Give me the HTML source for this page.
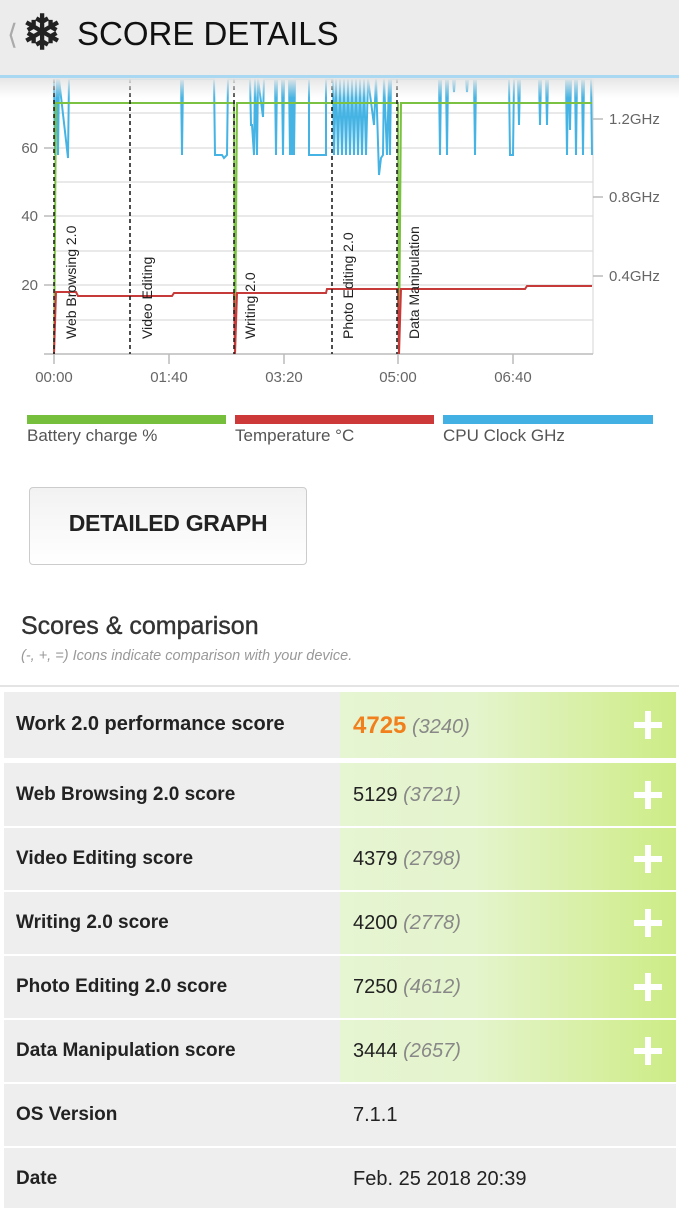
<!DOCTYPE html>
<html><head><meta charset="utf-8"><style>
*{margin:0;padding:0;box-sizing:border-box}
body{width:679px;height:1200px;overflow:hidden;background:#fff;font-family:"Liberation Sans",sans-serif;position:relative;color:#222}
.hdr{position:absolute;left:0;top:0;width:679px;height:75px;background:#ececec;z-index:5}
.hdrline{position:absolute;left:0;top:75px;width:679px;height:3px;background:#a9d9f2;z-index:5}
.shadow{position:absolute;left:0;top:78px;width:679px;height:20px;background:linear-gradient(#e6e6e6,rgba(255,255,255,0));z-index:4}
.t{position:absolute;white-space:nowrap}
.row{position:absolute;left:4px;width:672px;background:#eeeeee}
.row .l{position:absolute;left:12px;font-weight:bold;font-size:19px;color:#222;letter-spacing:0}
.row .g{position:absolute;left:336px;top:0;bottom:0;right:0;background:linear-gradient(90deg,#e6f5d2 0%,#e4f4cc 40%,#cdec86 100%)}
.row .v{position:absolute;left:349px;font-size:20px;color:#222}
.row .v i{color:#888}
.plus{position:absolute;right:14px;width:28px;height:28px}
.plus:before{content:"";position:absolute;left:11px;top:0;width:6px;height:28px;background:#fff}
.plus:after{content:"";position:absolute;left:0;top:11px;width:28px;height:6px;background:#fff}
</style></head><body>
<div class="hdr"></div><div class="hdrline"></div><div class="shadow"></div>
<div class="t" style="left:7px;top:18px;font-size:28px;color:#aaa;z-index:6">&#10216;</div>
<div class="t" style="left:22px;top:8px;font-size:48px;font-weight:bold;color:#222;z-index:6;line-height:52px">&#10052;</div>
<div class="t" style="left:77px;top:15px;font-size:33px;color:#111;z-index:6">SCORE DETAILS</div>

<svg style="position:absolute;left:0;top:0" width="679" height="400">
<g stroke="#dcdcdc" stroke-width="1.2">
<line x1="54" y1="79" x2="593" y2="79"/><line x1="54" y1="113" x2="593" y2="113"/><line x1="54" y1="148" x2="593" y2="148"/><line x1="54" y1="182" x2="593" y2="182"/><line x1="54" y1="216" x2="593" y2="216"/><line x1="54" y1="251" x2="593" y2="251"/><line x1="54" y1="285" x2="593" y2="285"/><line x1="54" y1="320" x2="593" y2="320"/>
<line x1="593" y1="79" x2="593" y2="354"/>
</g>
<g stroke="#bbb" stroke-width="1.5">
<line x1="44" y1="354" x2="593" y2="354"/>
<line x1="44" y1="148" x2="54" y2="148"/><line x1="44" y1="216" x2="54" y2="216"/><line x1="44" y1="285" x2="54" y2="285"/>
<line x1="54" y1="354" x2="54" y2="364"/><line x1="169" y1="354" x2="169" y2="364"/><line x1="284" y1="354" x2="284" y2="364"/><line x1="398" y1="354" x2="398" y2="364"/><line x1="513" y1="354" x2="513" y2="364"/>
<line x1="593" y1="119" x2="603" y2="119"/><line x1="593" y1="197" x2="603" y2="197"/><line x1="593" y1="276" x2="603" y2="276"/>
</g>
<g font-family="Liberation Sans" font-size="15" fill="#666">
<text x="38" y="153" text-anchor="end">60</text><text x="38" y="221" text-anchor="end">40</text><text x="38" y="290" text-anchor="end">20</text>
<text x="54" y="382" text-anchor="middle">00:00</text><text x="169" y="382" text-anchor="middle">01:40</text><text x="284" y="382" text-anchor="middle">03:20</text><text x="398" y="382" text-anchor="middle">05:00</text><text x="513" y="382" text-anchor="middle">06:40</text>
<text x="609" y="124">1.2GHz</text><text x="609" y="202">0.8GHz</text><text x="609" y="281">0.4GHz</text>
</g>
<path fill="none" stroke="#45b3e3" stroke-width="2" d="M54 79 L55 155 L57 79 L58 155 L59 79 L68 158 L69 79 L181 79 L182 155 L183 79 L214 79 L215 155 L222 155 L224 158 L227 155 L228 79 L250 79 L251 125 L252 125 L254 155 L255 79 L257 155 L258 79 L263 117 L264 79 L275 79 L276 155 L277 79 L282 79 L283 155 L284 79 L289 79 L290 155 L291 79 L292 155 L293 79 L294 155 L295 79 L309 79 L309 155 L326 155 L326 79 L333 79 L334 155 L336 79 L338 155 L340 79 L342 155 L344 79 L346 155 L348 79 L350 155 L352 79 L354 155 L356 79 L358 155 L360 79 L362 155 L364 79 L366 155 L368 79 L374 125 L376 79 L379 175 L381 158 L383 155 L384 79 L387 155 L389 79 L390 155 L391 79 L439 79 L440 155 L441 79 L446 79 L447 155 L448 79 L453 79 L454 92 L455 79 L466 79 L467 92 L468 79 L474 79 L475 155 L476 79 L509 79 L510 155 L513 155 L514 79 L518 79 L519 125 L520 79 L539 79 L540 125 L541 79 L546 79 L547 125 L548 79 L566 79 L567 155 L568 79 L569 79 L570 130 L571 79 L575 79 L576 155 L577 79 L582 79 L583 155 L584 79 L591 79 L592 155"/>
<path fill="none" stroke="#7cc242" stroke-width="2" d="M54 354 L56 103 L234 103 L235 354 L237 103 L398 103 L399 354 L401 103 L592 103"/>
<path fill="none" stroke="#c73a3a" stroke-width="2" d="M54 354 L56 292 L76 292 L78 296 L172 296 L174 293 L234 293 L235 354 L237 293 L326 293 L327 289 L398 289 L399 354 L401 289 L525 289 L527 286 L592 286"/>
<g stroke="#222" stroke-width="1.6" stroke-dasharray="4,3">
<line x1="54" y1="79" x2="54" y2="354"/><line x1="130" y1="79" x2="130" y2="354"/><line x1="234" y1="79" x2="234" y2="354"/><line x1="332" y1="79" x2="332" y2="354"/><line x1="397" y1="79" x2="397" y2="354"/>
</g>
<g font-family="Liberation Sans" font-size="14" fill="#222">
<text transform="translate(76,339) rotate(-90)">Web Browsing 2.0</text>
<text transform="translate(152,339) rotate(-90)">Video Editing</text>
<text transform="translate(255,339) rotate(-90)">Writing 2.0</text>
<text transform="translate(353,339) rotate(-90)">Photo Editing 2.0</text>
<text transform="translate(419,339) rotate(-90)">Data Manipulation</text>
</g>
</svg>

<div style="position:absolute;left:27px;top:415px;width:199px;height:9px;background:#75bf3c"></div>
<div style="position:absolute;left:235px;top:415px;width:199px;height:9px;background:#cd3838"></div>
<div style="position:absolute;left:443px;top:415px;width:210px;height:9px;background:#43b0e3"></div>
<div class="t" style="left:27px;top:426px;font-size:17px;color:#555">Battery charge %</div>
<div class="t" style="left:235px;top:426px;font-size:17px;color:#555">Temperature °C</div>
<div class="t" style="left:443px;top:426px;font-size:17px;color:#555">CPU Clock GHz</div>

<div style="position:absolute;left:29px;top:487px;width:278px;height:78px;border:1.5px solid #ccc;border-radius:4px;background:linear-gradient(#f2f2f2,#fff)"></div>
<div class="t" style="left:29px;top:510px;width:278px;text-align:center;font-size:23px;font-weight:bold;color:#222;letter-spacing:-0.3px">DETAILED GRAPH</div>

<div class="t" style="left:21px;top:612px;font-size:25px;color:#333;-webkit-text-stroke:0.4px #333">Scores &amp; comparison</div>
<div class="t" style="left:21px;top:648px;font-size:14.5px;color:#999;font-style:italic">(-, +, =) Icons indicate comparison with your device.</div>
<div style="position:absolute;left:0;top:685px;width:679px;height:2px;background:#e4e4e4"></div>

<div class="row" style="top:692px;height:66px"><div class="g"></div><div class="l" style="top:21px;font-size:20px">Work 2.0 performance score</div><div class="v" style="top:20px"><b style="color:#f07f1c;font-size:24px">4725</b> <i>(3240)</i></div><div class="plus" style="top:19px"></div></div>
<div class="row" style="top:763px;height:63px"><div class="g"></div><div class="l" style="top:21px">Web Browsing 2.0 score</div><div class="v" style="top:21px">5129 <i>(3721)</i></div><div class="plus" style="top:18px"></div></div>
<div class="row" style="top:828px;height:62px"><div class="g"></div><div class="l" style="top:20px">Video Editing score</div><div class="v" style="top:20px">4379 <i>(2798)</i></div><div class="plus" style="top:17px"></div></div>
<div class="row" style="top:892px;height:62px"><div class="g"></div><div class="l" style="top:20px">Writing 2.0 score</div><div class="v" style="top:20px">4200 <i>(2778)</i></div><div class="plus" style="top:17px"></div></div>
<div class="row" style="top:956px;height:62px"><div class="g"></div><div class="l" style="top:20px">Photo Editing 2.0 score</div><div class="v" style="top:20px">7250 <i>(4612)</i></div><div class="plus" style="top:17px"></div></div>
<div class="row" style="top:1020px;height:62px"><div class="g"></div><div class="l" style="top:20px">Data Manipulation score</div><div class="v" style="top:20px">3444 <i>(2657)</i></div><div class="plus" style="top:17px"></div></div>
<div class="row" style="top:1084px;height:62px"><div class="l" style="top:20px">OS Version</div><div class="v" style="top:20px">7.1.1</div></div>
<div class="row" style="top:1148px;height:60px"><div class="l" style="top:20px">Date</div><div class="v" style="top:20px">Feb. 25 2018 20:39</div></div>
</body></html>
